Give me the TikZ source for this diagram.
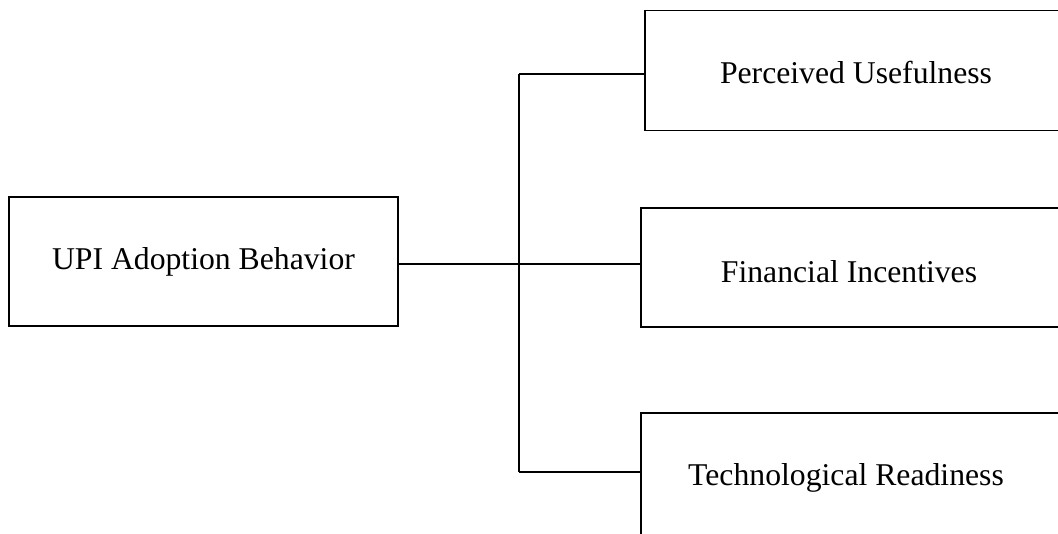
\documentclass[tikz,border=0pt]{standalone}
\usepackage{fontspec}
\setmainfont{Liberation Serif}
\begin{document}
\begin{tikzpicture}[x=0.5pt,y=-0.5pt,
  box/.style={draw, line width=0.75pt, rectangle, inner sep=0pt},
  lbl/.style={font=\fontsize{15.85}{19}\selectfont, inner sep=0pt},
  conn/.style={line width=0.9pt}]
\useasboundingbox (0,0) rectangle (1058,534);
% left box
\node[box, minimum width=194.5pt, minimum height=64.5pt] (ub) at (203.5,261.5) {};
\node[lbl] (ubt) at (203.5,262) {UPI Adoption Behavior};
% right boxes (extend beyond the page)
\node[box, anchor=north west, minimum width=250pt, minimum height=60pt] (pu) at (644,10) {};
\node[lbl] (put) at (856,72) {Perceived Usefulness};
\node[box, anchor=north west, minimum width=250pt, minimum height=59.5pt] (fi) at (640,207) {};
\node[lbl] (fit) at (849,272) {Financial Incentives};
\node[box, anchor=north west, minimum width=250pt, minimum height=80pt] (tr) at (640,412) {};
\node[lbl] (trt) at (846,478) {Technological Readiness};
% connectors
\coordinate (j) at (519,264);
\coordinate (jt) at (519,74);
\coordinate (jb) at (519,472);
\draw[conn] (ub.east |- j) -- (j) -- (fi.west |- j);
\draw[conn] (jt) -- (jb);
\draw[conn] (jt) -- (pu.west |- jt);
\draw[conn] (jb) -- (tr.west |- jb);
\end{tikzpicture}
\end{document}
